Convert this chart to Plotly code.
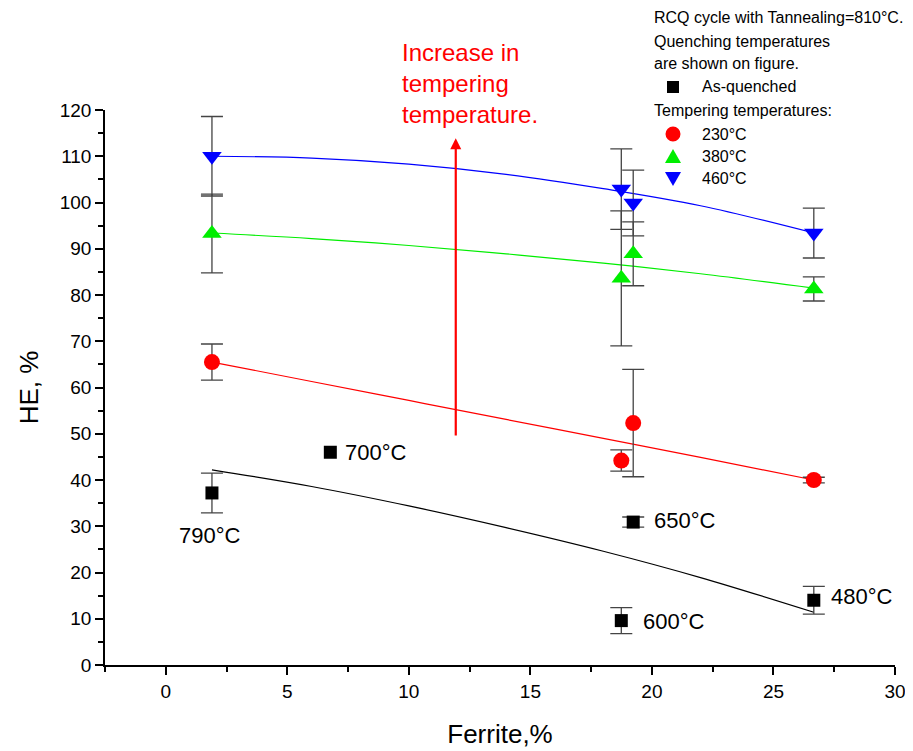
import plotly.graph_objects as go

# ---------------- data ----------------
aq_x = [1.9, 6.77, 19.23, 18.74, 26.66]
aq_y = [37.2, 46.0, 30.9, 9.6, 14.0]
aq_err = [4.3, None, 1.1, 2.8, 3.0]
aq_labels = ["790°C", "700°C", "650°C", "600°C", "480°C"]

t230_x = [1.9, 18.74, 19.23, 26.66]
t230_y = [65.5, 44.2, 52.3, 40.0]
t230_err = [3.9, 2.3, 11.6, 0.6]

t380_x = [1.9, 18.74, 19.23, 26.66]
t380_y = [93.3, 83.6, 88.9, 81.3]
t380_err = [8.5, 14.6, 6.9, 2.6]

t460_x = [1.9, 18.74, 19.23, 26.66]
t460_y = [110.0, 102.9, 99.9, 93.4]
t460_err = [8.6, 8.7, 7.1, 5.4]

# fitted curves
fit_x = [1.9, 6, 10, 14, 18, 22, 26.66]
fit_aq = [42.2, 38.6, 34.4, 29.7, 24.6, 18.9, 11.4]
fit_230 = [65.5, 61.3, 57.2, 53.1, 49.0, 44.9, 40.0]
fit_380 = [93.4, 92.2, 90.7, 88.9, 86.9, 84.6, 81.5]
fit_460 = [110.0, 109.6, 108.3, 106.1, 103.0, 99.3, 93.4]

x_ticks = [0, 5, 10, 15, 20, 25, 30]
y_ticks = [0, 10, 20, 30, 40, 50, 60, 70, 80, 90, 100, 110, 120]

FONT = "Liberation Sans, Arial, sans-serif"
ERRC = "#444444"
GREEN = "#00ee00"

fig = go.Figure()

for fy, col in [(fit_aq, "black"), (fit_230, "red"), (fit_380, GREEN), (fit_460, "blue")]:
    fig.add_trace(go.Scatter(x=fit_x, y=fy, mode="lines", line=dict(color=col, width=1.2, shape="spline"),
                             showlegend=False, hoverinfo="skip"))

def series(x, y, err, sym, col, size):
    # points with an error value get error bars; points without are plain markers
    xe = [a for a, e in zip(x, err) if e is not None]
    ye = [b for b, e in zip(y, err) if e is not None]
    ee = [e for e in err if e is not None]
    xn = [a for a, e in zip(x, err) if e is None]
    yn = [b for b, e in zip(y, err) if e is None]
    fig.add_trace(go.Scatter(
        x=xe, y=ye, mode="markers",
        marker=dict(symbol=sym, color=col, size=size, line=dict(width=0)),
        error_y=dict(type="data", array=ee, visible=True, color=ERRC, thickness=1.3, width=11),
        showlegend=False))
    if xn:
        fig.add_trace(go.Scatter(
            x=xn, y=yn, mode="markers",
            marker=dict(symbol=sym, color=col, size=size, line=dict(width=0)),
            showlegend=False))

series(aq_x, aq_y, aq_err, "square", "black", 13)
series(t230_x, t230_y, t230_err, "circle", "red", 16)
series(t380_x, t380_y, t380_err, "triangle-up", GREEN, 17)
series(t460_x, t460_y, t460_err, "triangle-down", "blue", 17)

# labels for quenching temperatures
lab_pos = [(1.8, 28.1, "center"), (7.3, 46.0, "left"), (20.0, 31.2, "left"),
           (19.55, 9.5, "left"), (27.3, 14.9, "left")]
for (lx, ly, anc), txt in zip(lab_pos, aq_labels):
    fig.add_annotation(x=lx, y=ly, text=txt, showarrow=False, xanchor=anc, yanchor="middle",
                       font=dict(size=22, color="black", family=FONT))

# screen-pixel -> paper helpers (plot area: x 105..895, y 110..665 on screen)
def px(x):
    return (x - 105) / 790
def py(y):
    return (665 - y) / 555

# arrow
fig.add_annotation(x=11.93, y=113.9, ax=11.93, ay=49.3, axref="x", ayref="y", xref="x", yref="y",
                   text="", showarrow=True, arrowhead=2, arrowsize=1, arrowwidth=2.2, arrowcolor="red")
fig.add_annotation(x=px(400), y=py(37), xref="paper", yref="paper",
                   text="Increase in<br>tempering<br>temperature.", showarrow=False,
                   xanchor="left", yanchor="top", align="left",
                   font=dict(size=24, color="red", family=FONT))

# legend block
leg_lines = [(652, 18, "RCQ cycle with Tannealing=810°C."),
             (652, 42, "Quenching temperatures"),
             (652, 64, "are shown on figure."),
             (700, 87, "As-quenched"),
             (652, 110, "Tempering temperatures:"),
             (700, 134, "230°C"),
             (700, 156, "380°C"),
             (700, 179, "460°C")]
for lx, ly, txt in leg_lines:
    fig.add_annotation(x=px(lx), y=py(ly), xref="paper", yref="paper", text=txt, showarrow=False,
                       xanchor="left", yanchor="middle", font=dict(size=16, color="black", family=FONT))

# legend symbols drawn as shapes
sx = 673
fig.add_shape(type="rect", xref="paper", yref="paper", x0=px(sx - 6), x1=px(sx + 6),
              y0=py(87 + 6), y1=py(87 - 6), fillcolor="black", line=dict(width=0))
fig.add_shape(type="circle", xref="paper", yref="paper", x0=px(sx - 7.5), x1=px(sx + 7.5),
              y0=py(134 + 7.5), y1=py(134 - 7.5), fillcolor="red", line=dict(width=0))
def tri(cy, up, col):
    h = 7
    w = 8
    if up:
        pts = [(sx - w, cy + h), (sx + w, cy + h), (sx, cy - h)]
    else:
        pts = [(sx - w, cy - h), (sx + w, cy - h), (sx, cy + h)]
    path = "M {} {} L {} {} L {} {} Z".format(*[v for p in pts for v in (px(p[0]), py(p[1]))])
    fig.add_shape(type="path", xref="paper", yref="paper", path=path, fillcolor=col, line=dict(width=0))
tri(156, True, GREEN)
tri(179, False, "blue")

axis_common = dict(showgrid=False, zeroline=False, showline=True, linecolor="black", linewidth=1.5,
                   ticks="outside", ticklen=8, tickwidth=1.5, tickcolor="black",
                   tickfont=dict(size=19, color="black", family=FONT))

fig.update_layout(
    width=913, height=751,
    margin=dict(l=97, r=26, t=102, b=94, autoexpand=False),
    paper_bgcolor="white", plot_bgcolor="white",
    font=dict(family=FONT, color="black"),
    xaxis=dict(range=[-2.5, 30], tickvals=x_ticks,
               minor=dict(ticks="outside", ticklen=5, tickwidth=1.5, tickcolor="black", dtick=2.5, tick0=0),
               title=dict(text="Ferrite,%", font=dict(size=26, family=FONT), standoff=24),
               **axis_common),
    yaxis=dict(range=[0, 120], tickvals=y_ticks,
               minor=dict(ticks="outside", ticklen=5, tickwidth=1.5, tickcolor="black", dtick=5, tick0=0),
               title=dict(text="HE, %", font=dict(size=26, family=FONT), standoff=14),
               **axis_common),
)

fig.write_html("out.html")
